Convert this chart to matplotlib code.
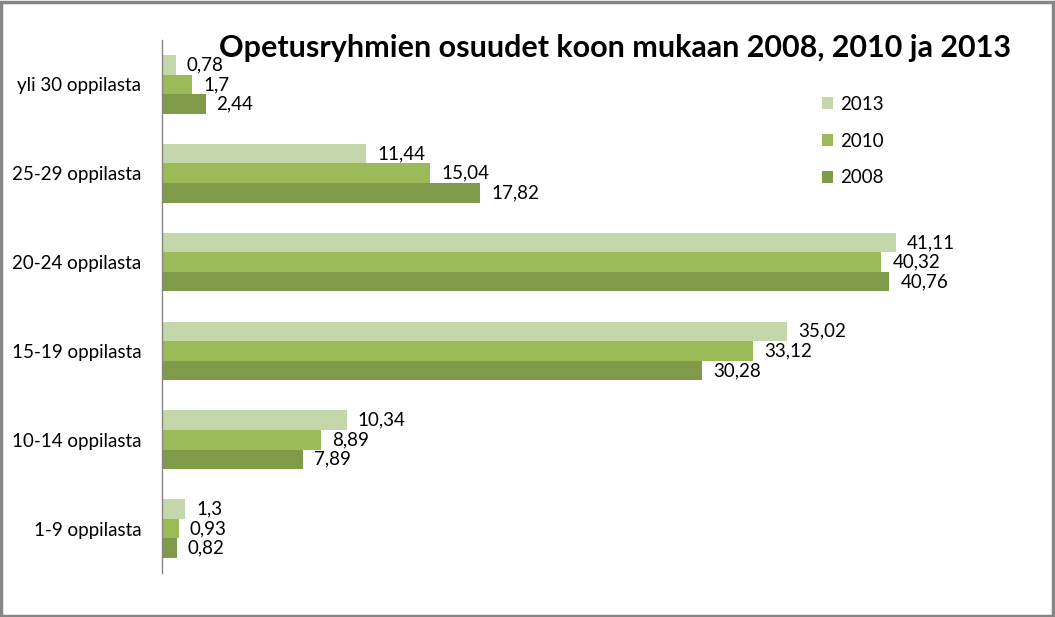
import matplotlib.pyplot as plt
import matplotlib.patches as patches
import numpy as np

# === Dati ===
categorie = ['1-9 oppilasta', '10-14 oppilasta', '15-19 oppilasta',
             '20-24 oppilasta', '25-29 oppilasta', 'yli 30 oppilasta']
anni = ['2013', '2010', '2008']
v2013 = [1.3, 10.34, 35.02, 41.11, 11.44, 0.78]
v2010 = [0.93, 8.89, 33.12, 40.32, 15.04, 1.7]
v2008 = [0.82, 7.89, 30.28, 40.76, 17.82, 2.44]
titolo = 'Opetusryhmien osuudet koon mukaan 2008, 2010 ja 2013'

colori = ['#c4d7ab', '#9bbb59', '#7f9b4a']

plt.rcParams['font.family'] = ['Lato', 'DejaVu Sans']

fig = plt.figure(figsize=(10.55, 6.17), dpi=100)
ax = fig.add_axes([162 / 1055, 1 - 573 / 617, (965 - 162) / 1055, (573 - 40) / 617])

y = np.arange(len(categorie))
h = 0.22
serie = [v2013, v2010, v2008]
offs = [h, 0, -h]
for vals, off, col, anno in zip(serie, offs, colori, anni):
    ax.barh(y + off, vals, height=h, color=col, label=anno)
    for yi, v in zip(y, vals):
        ax.text(v + 0.62, yi + off, f"{v:g}".replace('.', ','), va='center',
                ha='left', fontsize=13.5)

ax.set_xlim(0, 45)
ax.set_ylim(-0.5, len(categorie) - 0.5)
ax.set_yticks(y)
ax.set_yticklabels(categorie, fontsize=13.5)
ax.tick_params(axis='y', length=0, pad=15)
ax.set_xticks([])
for s in ['top', 'right', 'bottom']:
    ax.spines[s].set_visible(False)
ax.spines['left'].set_color('#868686')
ax.spines['left'].set_linewidth(1)

fig.text(615 / 1055, 1 - 48 / 617, titolo, ha='center', va='center',
         fontsize=22, fontweight='bold')

ax.legend(loc='upper left', bbox_to_anchor=(805 / 1055, 1 - 79 / 617),
          bbox_transform=fig.transFigure, frameon=False, fontsize=13.5,
          handlelength=0.6, handleheight=0.6, handletextpad=0.35,
          labelspacing=1.05)

# bordo del grafico
bordo = patches.Rectangle((1 / 1055, 1 / 617), 1052 / 1055, 614 / 617,
                          transform=fig.transFigure, fill=False,
                          ec='#868686', lw=2.5)
fig.patches.append(bordo)

fig.savefig('out.png', dpi=100)
